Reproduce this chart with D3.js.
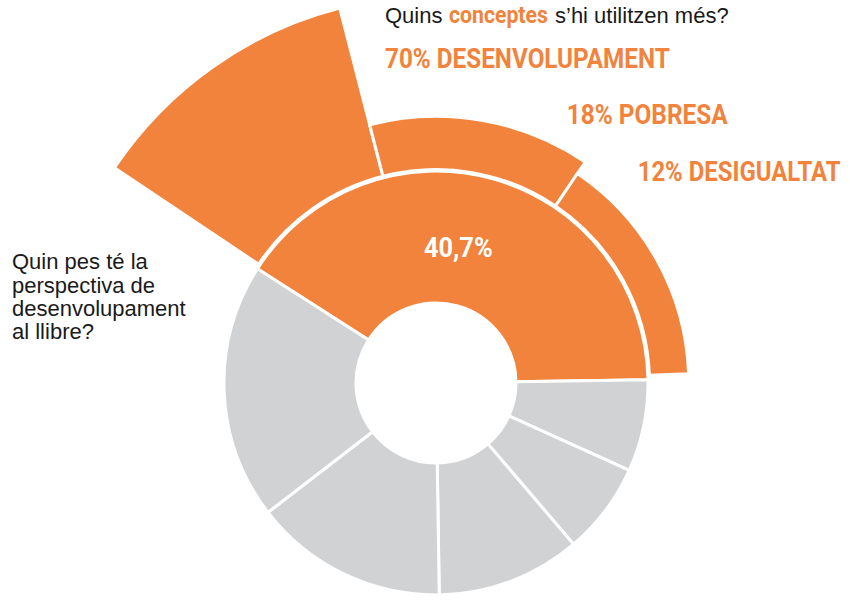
<!DOCTYPE html>
<html>
<head>
<meta charset="utf-8">
<script src="https://cdn.jsdelivr.net/npm/d3@7"></script>
<style>
  body { margin: 0; background: #fff; }
</style>
</head>
<body>
<script>
// share of the book per perspective (first one = development perspective)
const perspectives = ["desenvolupament", "p2", "p3", "p4", "p5", "p6"];
const shares = [40.7, 7.0, 7.0, 11.0, 14.8, 19.5];

// concepts used inside the development perspective
const concepts = ["DESENVOLUPAMENT", "POBRESA", "DESIGUALTAT"];
const conceptShares = [70, 18, 12];
// angular weight of each concept sector
const conceptSpans = [29, 33.6, 37.4];

const width = 850;
const height = 600;
const orange = "#f1833c";
const grey = "#d1d2d4";
const deg = Math.PI / 180;

const svg = d3.select("body").append("svg")
  .attr("width", width)
  .attr("height", height)
  .attr("viewBox", [0, 0, width, height]);

const g = svg.append("g").attr("transform", "translate(436,383)");

const pie = d3.pie().sort(null).value(d => d.v)
  .startAngle(-57.4 * deg).endAngle(302.6 * deg);
const slices = pie(perspectives.map((k, i) => ({k, v: shares[i]})));

const arc = d3.arc().innerRadius(80).outerRadius(212);

g.selectAll("path.main")
  .data(slices)
  .join("path")
  .attr("class", "main")
  .attr("d", arc)
  .attr("fill", (d, i) => i === 0 ? orange : grey)
  .attr("stroke", "#fff")
  .attr("stroke-width", 3);

// outer ring on the orange slice
const dev = slices[0];
const pad = 1.2 * deg;
const subPie = d3.pie().sort(null).value(d => d.span)
  .startAngle(dev.startAngle + pad).endAngle(dev.endAngle - pad);
const subs = subPie(concepts.map((c, i) => ({c, v: conceptShares[i], span: conceptSpans[i]})));

const r = d3.scaleLinear().domain([0, 70]).range([225, 387]);
const outerArc = d3.arc().innerRadius(213.5).outerRadius(d => r(d.data.v));

g.selectAll("path.sub")
  .data(subs)
  .join("path")
  .attr("class", "sub")
  .attr("d", outerArc)
  .attr("fill", orange)
  .attr("stroke", "#fff")
  .attr("stroke-width", 3);

const cond = "Roboto, 'DejaVu Sans Condensed', sans-serif";
const plain = "'Liberation Sans', Arial, Helvetica, sans-serif";

// squeeze a bold label horizontally to the condensed width of the original
function squeeze(sel, x, y, w) {
  const natural = sel.node().getComputedTextLength();
  sel.attr("transform", `translate(${x},${y}) scale(${w / natural},1)`);
}

// value in the orange slice
const big = g.append("text")
  .attr("fill", "#fff")
  .style("font", `700 28px ${cond}`)
  .text(d3.format(".1f")(shares[0]).replace(".", ",") + "%");
squeeze(big, -12, -125.7, 68.7);

// concept labels
const labels = [
  {x: 385, y: 68.3, w: 285},
  {x: 566.7, y: 124, w: 161},
  {x: 637.7, y: 180.7, w: 203}
];
svg.selectAll("text.concept")
  .data(concepts)
  .join("text")
  .attr("class", "concept")
  .attr("fill", orange)
  .style("font", `700 28px ${cond}`)
  .text((d, i) => `${conceptShares[i]}% ${d}`)
  .each(function(d, i) { squeeze(d3.select(this), labels[i].x, labels[i].y, labels[i].w); });

// top question
svg.append("text")
  .attr("x", 385).attr("y", 22.7)
  .attr("fill", "#1a1a1a")
  .style("font", `22px ${plain}`)
  .text("Quins");
const kw = svg.append("text")
  .attr("fill", orange)
  .style("font", `700 24px ${cond}`)
  .text("conceptes");
squeeze(kw, 449, 22.7, 99);
svg.append("text")
  .attr("x", 555).attr("y", 22.7)
  .attr("fill", "#1a1a1a")
  .style("font", `22px ${plain}`)
  .text("s’hi utilitzen més?");

// left question
const q = ["Quin pes té la", "perspectiva de", "desenvolupament", "al llibre?"];
svg.append("text")
  .attr("fill", "#1a1a1a")
  .style("font", `22px ${plain}`)
  .selectAll("tspan")
  .data(q)
  .join("tspan")
  .attr("x", 12)
  .attr("y", (d, i) => 269.3 + i * 23.35)
  .text(d => d);
</script>
</body>
</html>
